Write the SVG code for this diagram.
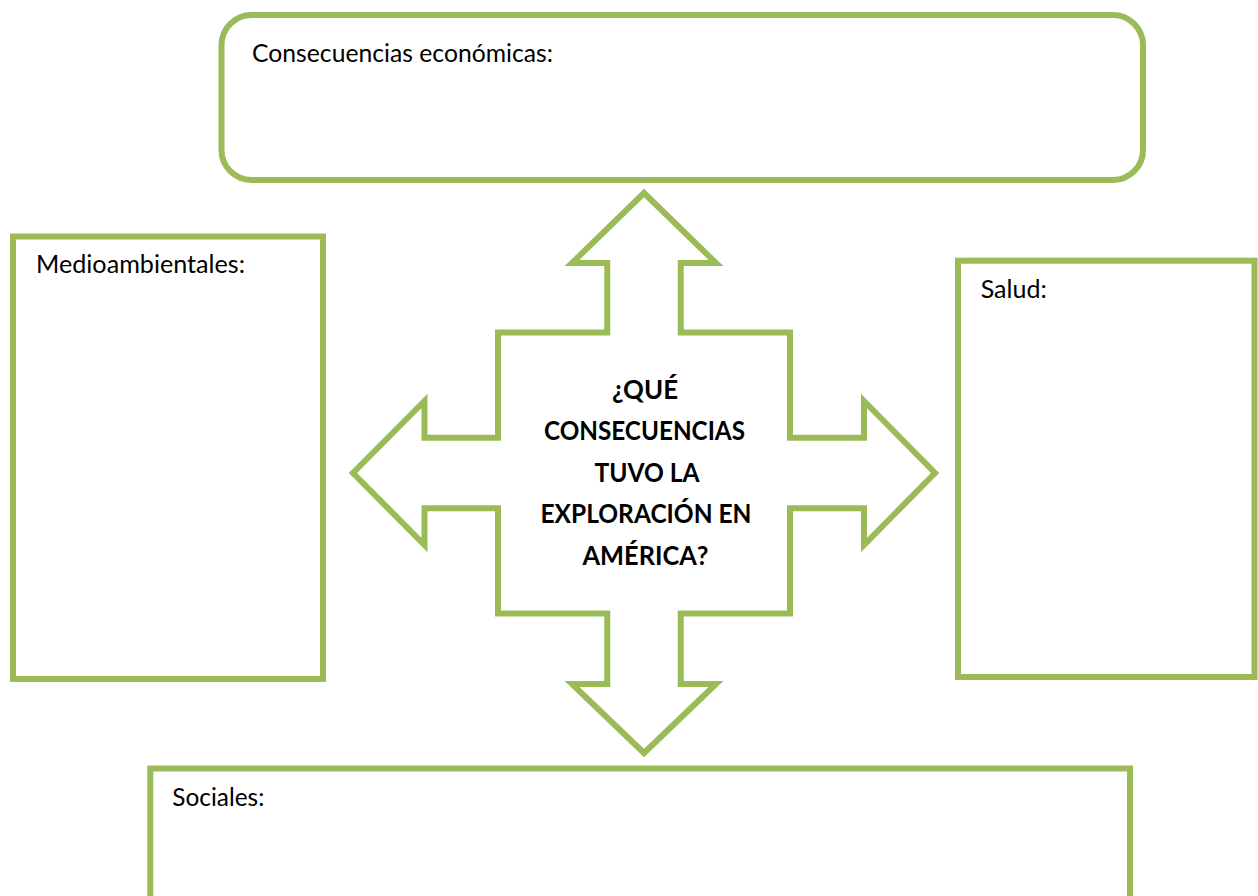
<svg xmlns="http://www.w3.org/2000/svg" width="1258" height="896" viewBox="0 0 1258 896">
  <style>
    .box { fill: #ffffff; stroke: #9BBB59; stroke-width: 6; }
    .lbl { font-family: Lato, "Liberation Sans", sans-serif; font-size: 25px; fill: #000000; }
    .q { font-family: Lato, "Liberation Sans", sans-serif; font-size: 27px; font-weight: bold; fill: #000000; text-anchor: middle; }
  </style>
  <rect width="1258" height="896" fill="#ffffff"/>
  <g id="connectors">
    <path id="cross-arrow" class="box" stroke-linejoin="miter" d="M 644 193 L 716 263 L 680.75 263 L 680.75 332.5 L 790 332.5 L 790 437.75 L 864 437.75 L 864 401 L 935 473 L 864 545 L 864 508.25 L 790 508.25 L 790 613.5 L 680.75 613.5 L 680.75 684 L 716 684 L 644 753 L 572 684 L 607.25 684 L 607.25 613.5 L 498 613.5 L 498 508.25 L 424.5 508.25 L 424.5 545 L 353 473 L 424.5 401 L 424.5 437.75 L 498 437.75 L 498 332.5 L 607.25 332.5 L 607.25 263 L 572 263 Z"/>
  </g>
  <g id="center">
    <text class="q" x="645" y="398.5" textLength="66" lengthAdjust="spacingAndGlyphs">¿QUÉ</text>
    <text class="q" x="644.5" y="440" textLength="201" lengthAdjust="spacingAndGlyphs">CONSECUENCIAS</text>
    <text class="q" x="647" y="481.5" textLength="105" lengthAdjust="spacingAndGlyphs">TUVO LA</text>
    <text class="q" x="646" y="523" textLength="211" lengthAdjust="spacingAndGlyphs">EXPLORACIÓN EN</text>
    <text class="q" x="645.5" y="564.5" textLength="126" lengthAdjust="spacingAndGlyphs">AMÉRICA?</text>
  </g>
  <g id="economicas">
    <rect class="box" x="221.5" y="15" width="921.5" height="165" rx="30" ry="30"/>
    <text class="lbl" x="252" y="62" textLength="301" lengthAdjust="spacingAndGlyphs">Consecuencias económicas:</text>
  </g>
  <g id="medioambientales">
    <rect class="box" x="13" y="236.5" width="310" height="442.5"/>
    <text class="lbl" x="36" y="273.3" textLength="209" lengthAdjust="spacingAndGlyphs">Medioambientales:</text>
  </g>
  <g id="salud">
    <rect class="box" x="958" y="260.7" width="296.5" height="416.3"/>
    <text class="lbl" x="980.7" y="298.3" textLength="66" lengthAdjust="spacingAndGlyphs">Salud:</text>
  </g>
  <g id="sociales">
    <rect class="box" x="150.3" y="768.5" width="979.7" height="200"/>
    <text class="lbl" x="172.3" y="805.7" textLength="92" lengthAdjust="spacingAndGlyphs">Sociales:</text>
  </g>
</svg>
